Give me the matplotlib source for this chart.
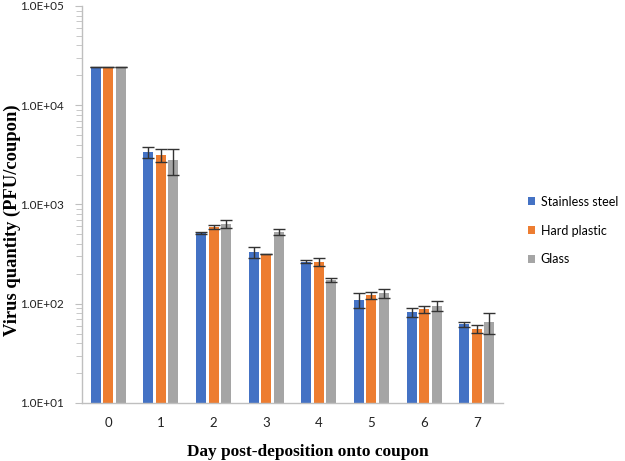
import matplotlib
matplotlib.use("Agg")
import matplotlib.pyplot as plt
import numpy as np
from matplotlib.ticker import LogLocator, NullFormatter

days = ["0", "1", "2", "3", "4", "5", "6", "7"]
series = ["Stainless steel", "Hard plastic", "Glass"]
steel = [24000, 3370, 515, 331, 265, 109, 82, 62]
steel_err = [0, 400, 8, 45, 8, 18, 8, 4]
plastic = [24000, 3150, 590, 316, 262, 122, 88, 56]
plastic_err = [0, 500, 30, 0, 25, 10, 7, 5]
glass = [24000, 2800, 640, 530, 175, 128, 95, 65]
glass_err = [0, 800, 60, 40, 8, 14, 11, 15]
colors = ["#4472C4", "#ED7D31", "#A5A5A5"]

fig = plt.figure(figsize=(6.25, 4.61), dpi=100)
ax = fig.add_axes([0.131, 0.126, 0.674, 0.861])

x = np.arange(len(days))
w = 0.19
off = 0.24
for i, (vals, errs, name) in enumerate(zip([steel, plastic, glass],
                                            [steel_err, plastic_err, glass_err], series)):
    ax.bar(x + (i - 1) * off, vals, width=w, color=colors[i], label=name,
           yerr=errs, error_kw=dict(ecolor="#333333", elinewidth=1, capsize=4, capthick=1),
           zorder=2)

ax.set_yscale("log")
ax.set_ylim(10, 1e5)
ax.set_xlim(-0.5, len(days) - 0.5)
ax.set_xticks(x)
ax.set_xticklabels(days)
ax.set_yticks([1e1, 1e2, 1e3, 1e4, 1e5])
ax.set_yticklabels(["1.0E+01", "1.0E+02", "1.0E+03", "1.0E+04", "1.0E+05"])
ax.yaxis.set_minor_locator(LogLocator(base=10, subs=np.arange(2, 10)))
ax.yaxis.set_minor_formatter(NullFormatter())

for s in ["top", "right"]:
    ax.spines[s].set_visible(False)
for s in ["left", "bottom"]:
    ax.spines[s].set_color("#BFBFBF")
    ax.spines[s].set_linewidth(1.0)

ax.tick_params(axis="y", which="major", length=5, color="#BFBFBF", labelsize=8.5, pad=8)
ax.tick_params(axis="y", which="minor", length=4, color="#BFBFBF")
ax.tick_params(axis="x", length=0, labelsize=9.5, pad=10)
for lab in ax.get_xticklabels() + ax.get_yticklabels():
    lab.set_fontfamily("Lato")
    lab.set_color("#222222")

ax.set_ylabel("Virus quantity (PFU/coupon)", fontfamily="Liberation Serif",
              fontweight="bold", fontsize=13.3)
ax.yaxis.set_label_coords(-0.145, 0.461)
ax.set_xlabel("Day post-deposition onto coupon", fontfamily="Liberation Serif",
              fontweight="bold", fontsize=12.4)
ax.xaxis.set_label_coords(0.537, -0.104)

leg = fig.legend(loc="center left", bbox_to_anchor=(0.826, 0.50), frameon=False,
                 handlelength=0.6, handleheight=0.6, handletextpad=0.45,
                 labelspacing=1.35, prop={"family": "Lato", "size": 9})

fig.savefig("out.png", dpi=100)
